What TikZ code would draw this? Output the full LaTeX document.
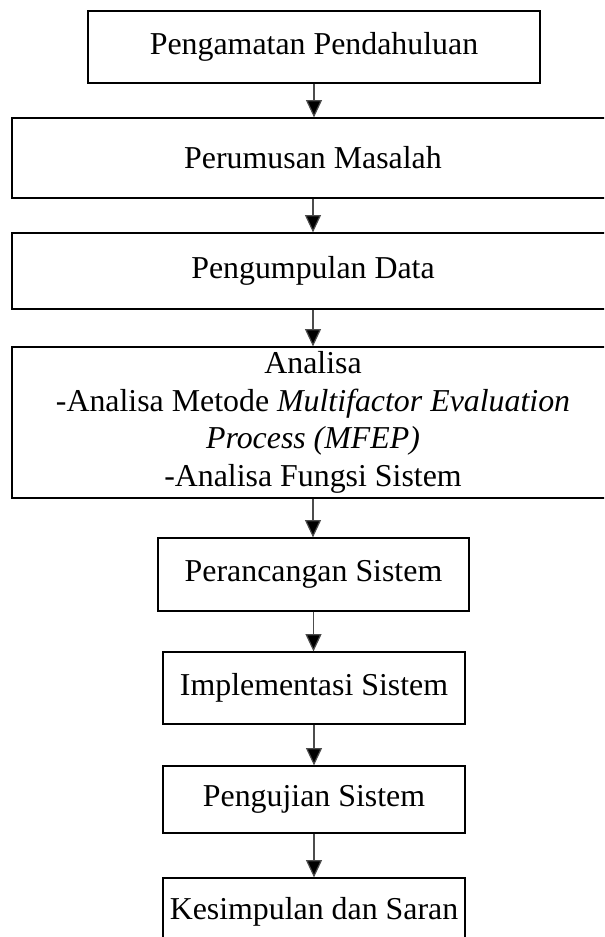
\documentclass[tikz,border=0pt]{standalone}
\usepackage{fontspec}
\setmainfont{Liberation Serif}
\usetikzlibrary{arrows.meta}
\tikzset{
  stepbox/.style={draw=black, line width=0.9pt, inner sep=0pt, align=center,
    font=\fontsize{23.9}{28.1}\selectfont},
  flow/.style={draw=black!70, line width=0.9pt,
    -{Triangle[length=13pt,width=12pt,fill=black]}}
}
\begin{document}
\begin{tikzpicture}[x=0.75pt,y=-0.75pt]
\useasboundingbox (0,0) rectangle (604,937);
\clip (0,0) rectangle (604,937);
\node[stepbox, minimum width=452*0.75pt, minimum height=72*0.75pt] (b1) at (314,47) {Pengamatan Pendahuluan};
\node[stepbox, minimum width=602*0.75pt, minimum height=80*0.75pt] (b2) at (313,158) {Perumusan Masalah};
\node[stepbox, minimum width=602*0.75pt, minimum height=76*0.75pt] (b3) at (313,271) {Pengumpulan Data};
\node[stepbox, minimum width=602*0.75pt, minimum height=151*0.75pt] (b4) at (313,422.5) {Analisa\\-Analisa Metode \textit{Multifactor Evaluation}\\\textit{Process (MFEP)}\\-Analisa Fungsi Sistem};
\node[stepbox, minimum width=311*0.75pt, minimum height=73*0.75pt] (b5) at (313.5,574.5) {Perancangan Sistem};
\node[stepbox, minimum width=302*0.75pt, minimum height=72*0.75pt] (b6) at (314,688) {Implementasi Sistem};
\node[stepbox, minimum width=302*0.75pt, minimum height=67*0.75pt] (b7) at (314,799.5) {Pengujian Sistem};
\node[stepbox, minimum width=302*0.75pt, minimum height=68*0.75pt] (b8) at (314,912) {Kesimpulan dan Saran};
\foreach \a/\b in {b1/b2,b2/b3,b3/b4,b4/b5,b5/b6,b6/b7,b7/b8}
  \draw[flow] (\a.south) -- (\a.south |- \b.north);
\end{tikzpicture}
\end{document}
